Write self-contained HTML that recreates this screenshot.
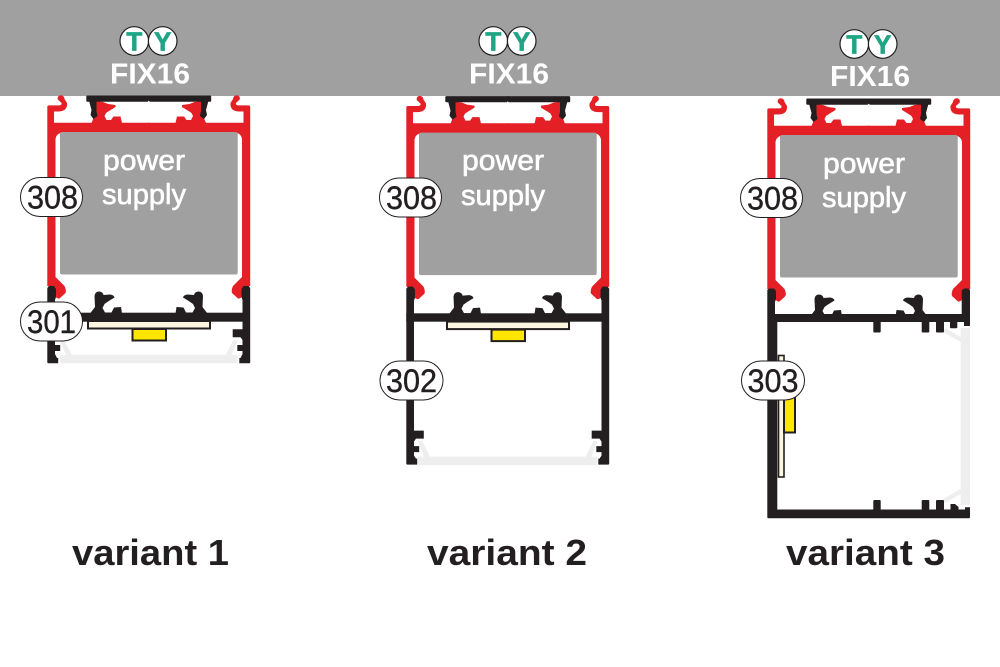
<!DOCTYPE html>
<html>
<head>
<meta charset="utf-8">
<title>FIX16 variants</title>
<style>
html,body{margin:0;padding:0;background:#fff;width:1000px;height:667px;overflow:hidden}
svg{display:block}
text{font-family:"Liberation Sans",sans-serif}
.p{fill:#fff;stroke:#231f20;stroke-width:1}
.n{font-size:32px;fill:#231f20;stroke:#231f20;stroke-width:.4}
.w{fill:#fff;font-size:29px;stroke:#fff;stroke-width:.6}
.f{fill:#fff;font-size:29px;font-weight:bold}
.v{fill:#231f20;font-size:36px;font-weight:bold}
.g{fill:#1fa586;font-size:26px;font-weight:bold;stroke:#1fa586;stroke-width:.7}
</style>
</head>
<body>
<svg width="1000" height="667" viewBox="0 0 1000 667" xmlns="http://www.w3.org/2000/svg">
<defs>
<g id="redH">
<path fill="#e41f26" d="M47.3 107Q47.3 105.4 49 105.4H59.5Q62 105 61.5 103L57.8 99.5Q57 96 60.5 95.3Q64 95.3 64.5 99L67 103Q67.5 107 65 109.5Q62.5 111.5 58 111.5H54V122.7H149.5V132.5H63Q56.5 133 55.5 139V277L64.5 286Q66.5 290 65.5 293L59.5 298.5Q57 299 55 296V288L47.3 286Z"/>
<path fill="#e41f26" d="M91.5 123L96 112L95.5 101L103 102L108 104L115.5 105L115.5 107L109 111L106 113L104.5 116L106.5 120L111 120L113.5 116.5L120.5 116.5L122 123Z"/>
<path fill="#231f20" d="M149.5 95.5H87.3Q86.3 95.5 86.3 96.5V100.7Q86.3 101.7 87.3 101.7H89.3L91.5 110L90.5 115L93.5 119L97.5 116L96.5 111V101.7H149.5Z"/>
</g>
<g id="top">
<use href="#redH"/>
<use href="#redH" transform="matrix(-1 0 0 1 297.5 0)"/>
<path fill="#fff" d="M147.5 102H150L148.75 100.6Z"/>
<rect x="60" y="132" width="177.7" height="142.5" rx="2" fill="#a0a0a0"/>
</g>
<path id="clip" fill="#231f20" d="M90 313.5L95 307L94.5 296Q95 291.5 99.3 291.5Q103 292 103.5 295L110 294.5Q114 295 114.5 297.5L108 301.5L104.5 304L102.5 308L105 312.5L111.5 312.5L114 307.5L121 307L122 313.5Z"/>
<g id="clips">
<use href="#clip"/>
<use href="#clip" transform="matrix(-1 0 0 1 297.5 0)"/>
</g>
<g id="led">
<rect x="88" y="321" width="122" height="7.5" fill="#fbf6df" stroke="#231f20" stroke-width="2"/>
<rect x="132.5" y="329" width="33.5" height="11.5" fill="#ffe600" stroke="#231f20" stroke-width="2"/>
</g>
<g id="wall1">
<path fill="#231f20" d="M47.3 288L49 286H54L56 289V297L55 300V329.3H64.8V337.3H57L55 340V345H60.2V351L55 351V354L57 358H58.2V363.3H48.5Q47.3 363.3 47.3 362Z"/>
</g>
<g id="wall2">
<path fill="#231f20" d="M47.3 288L49 286H54L56 289V297L55 300V430H64.8V438H57L55 441V445.5H60.2V451.5L55 451.5V455L57 458H58.2V464H48.5Q47.3 464 47.3 463Z"/>
</g>
<path id="diff1" fill="#eee" d="M60 355H66L60 341L64 340L72 355H149.5V363.3H60Z"/>
<path id="diff2" fill="#eee" d="M59 456H65L59 441L63 440L71 456H149.5V464.5H59Z"/>
</defs>

<rect width="1000" height="96" fill="#a0a0a0"/>

<!-- variant 1 -->
<g>
<use href="#diff1"/><use href="#diff1" transform="matrix(-1 0 0 1 297.5 0)"/>
<use href="#top"/>
<use href="#clips"/>
<rect x="47.3" y="312.7" width="202.7" height="9" fill="#231f20"/>
<use href="#wall1"/><use href="#wall1" transform="matrix(-1 0 0 1 297.5 0)"/>
<use href="#led"/>
</g>

<!-- variant 2 -->
<g transform="translate(359,0.6)">
<use href="#diff2"/><use href="#diff2" transform="matrix(-1 0 0 1 297.5 0)"/>
<use href="#top"/>
<use href="#clips"/>
<rect x="47.3" y="312.7" width="202.7" height="8.4" fill="#231f20"/>
<use href="#wall2"/><use href="#wall2" transform="matrix(-1 0 0 1 297.5 0)"/>
<use href="#led"/>
</g>

<!-- variant 3 -->
<g transform="translate(720,3)">
<use href="#top"/>
<use href="#clips"/>
</g>
<path fill="#eee" d="M960.7 328H970V505H960.7V494L945 503L943 499L960.7 489V342L943 332L945 328L960.7 337Z"/>
<path fill="#231f20" d="M767.3 290L769 288.5H774L776 291V299L775 302V314H961.7V290.5L964 288.5H968.5L970 290V326H964V322H777.3V509.5H965V507.3H970V517Q970 518.3 968.7 518.3H768.7Q767.3 518.3 767.3 517Z"/>
<g fill="#231f20">
<rect x="873.3" y="321" width="7.4" height="11.5" rx="1"/>
<rect x="921.7" y="321" width="7.6" height="11.5" rx="1"/>
<rect x="936" y="321" width="8" height="11.5" rx="1"/>
<rect x="950" y="321" width="7.3" height="7.3" rx="1"/>
<rect x="873.3" y="500" width="7.4" height="11" rx="1"/>
<rect x="921.7" y="500" width="7.6" height="11" rx="1"/>
<rect x="936" y="500" width="8" height="11" rx="1"/>
<path d="M950.5 504H955L958.5 507V511H950.5Z"/>
</g>
<rect x="778.5" y="355.5" width="5.5" height="121.5" fill="#fbf6df" stroke="#231f20" stroke-width="1.6"/>
<rect x="784" y="392" width="11" height="40.5" fill="#ffe600" stroke="#231f20" stroke-width="2"/>

<!-- TY badges -->
<g>
<circle cx="134.3" cy="41" r="14.3" fill="#fff" stroke="#231f20" stroke-width="1.2"/>
<circle cx="162.7" cy="41" r="14.3" fill="#fff" stroke="#231f20" stroke-width="1.2"/>
<text class="g" x="134.3" y="50.5" text-anchor="middle">T</text>
<text class="g" x="162.7" y="50.5" text-anchor="middle">Y</text>
</g>
<g transform="translate(359,0)">
<circle cx="134.3" cy="41" r="14.3" fill="#fff" stroke="#231f20" stroke-width="1.2"/>
<circle cx="162.7" cy="41" r="14.3" fill="#fff" stroke="#231f20" stroke-width="1.2"/>
<text class="g" x="134.3" y="50.5" text-anchor="middle">T</text>
<text class="g" x="162.7" y="50.5" text-anchor="middle">Y</text>
</g>
<g transform="translate(720,3)">
<circle cx="134.3" cy="41" r="14.3" fill="#fff" stroke="#231f20" stroke-width="1.2"/>
<circle cx="162.7" cy="41" r="14.3" fill="#fff" stroke="#231f20" stroke-width="1.2"/>
<text class="g" x="134.3" y="50.5" text-anchor="middle">T</text>
<text class="g" x="162.7" y="50.5" text-anchor="middle">Y</text>
</g>

<text class="f" x="110" y="83.5" textLength="80" lengthAdjust="spacingAndGlyphs">FIX16</text>
<text class="f" x="469" y="83.5" textLength="80" lengthAdjust="spacingAndGlyphs">FIX16</text>
<text class="f" x="830" y="86" textLength="80" lengthAdjust="spacingAndGlyphs">FIX16</text>

<text class="w" x="103" y="170" textLength="82" lengthAdjust="spacingAndGlyphs">power</text>
<text class="w" x="102" y="204" textLength="84" lengthAdjust="spacingAndGlyphs">supply</text>
<text class="w" x="462" y="170" textLength="82" lengthAdjust="spacingAndGlyphs">power</text>
<text class="w" x="461" y="205" textLength="84" lengthAdjust="spacingAndGlyphs">supply</text>
<text class="w" x="823" y="173" textLength="82" lengthAdjust="spacingAndGlyphs">power</text>
<text class="w" x="822" y="207" textLength="84" lengthAdjust="spacingAndGlyphs">supply</text>

<!-- pills -->
<rect class="p" x="20.5" y="177.5" width="62" height="39" rx="19.5"/>
<text class="n" x="27" y="208.5" textLength="51" lengthAdjust="spacingAndGlyphs">308</text>
<rect class="p" x="379.5" y="178" width="62" height="39" rx="19.5"/>
<text class="n" x="386" y="209" textLength="51" lengthAdjust="spacingAndGlyphs">308</text>
<rect class="p" x="740.5" y="178.5" width="62" height="39" rx="19.5"/>
<text class="n" x="747" y="209.5" textLength="51" lengthAdjust="spacingAndGlyphs">308</text>
<rect class="p" x="20.5" y="302" width="62" height="39" rx="19.5"/>
<text class="n" x="27" y="333" textLength="49" lengthAdjust="spacingAndGlyphs">301</text>
<rect class="p" x="380" y="361" width="63" height="39" rx="19.5"/>
<text class="n" x="386" y="392" textLength="51" lengthAdjust="spacingAndGlyphs">302</text>
<rect class="p" x="741.5" y="361" width="63" height="39" rx="19.5"/>
<text class="n" x="747.5" y="392" textLength="51" lengthAdjust="spacingAndGlyphs">303</text>

<text class="v" x="72" y="565" textLength="157" lengthAdjust="spacingAndGlyphs">variant 1</text>
<text class="v" x="427" y="565" textLength="160" lengthAdjust="spacingAndGlyphs">variant 2</text>
<text class="v" x="786" y="565" textLength="159" lengthAdjust="spacingAndGlyphs">variant 3</text>
</svg>
</body>
</html>
